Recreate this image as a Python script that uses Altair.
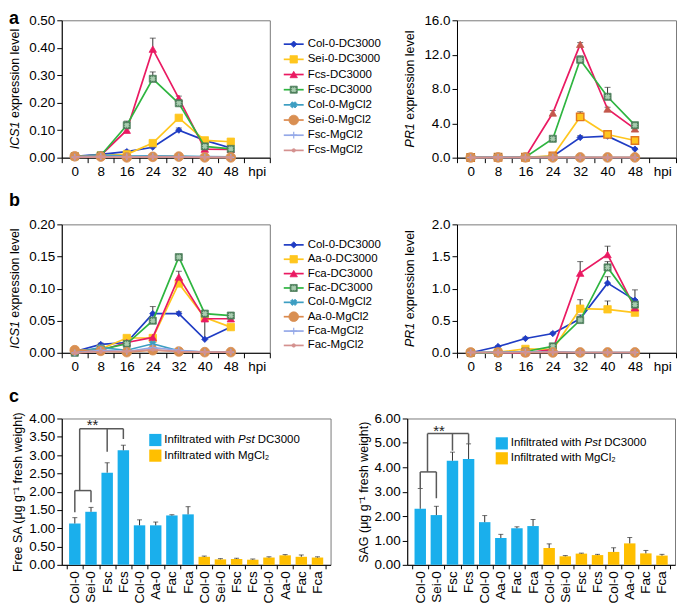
import json
import altair as alt
import pandas as pd

FONT = "Liberation Sans"
HOURS = [0, 8, 16, 24, 32, 40, 48]

SERIES_A = ["Col-0-DC3000", "Sei-0-DC3000", "Fcs-DC3000", "Fsc-DC3000",
            "Col-0-MgCl2", "Sei-0-MgCl2", "Fsc-MgCl2", "Fcs-MgCl2"]
SERIES_B = ["Col-0-DC3000", "Aa-0-DC3000", "Fca-DC3000", "Fac-DC3000",
            "Col-0-MgCl2", "Aa-0-MgCl2", "Fca-MgCl2", "Fac-MgCl2"]

# ---- panel a, ICS1 ----
ICS1_A_COL0_DC = [0.005, 0.012, 0.022, 0.038, 0.100, 0.063, 0.035]
ICS1_A_SEI0_DC = [0.005, 0.008, 0.012, 0.053, 0.145, 0.063, 0.058]
ICS1_A_FCS_DC = [0.005, 0.008, 0.100, 0.395, 0.216, 0.031, 0.030]
ICS1_A_FSC_DC = [0.005, 0.008, 0.118, 0.287, 0.198, 0.041, 0.032]
ICS1_A_COL0_MG = [0.004, 0.010, 0.006, 0.007, 0.006, 0.004, 0.003]
ICS1_A_SEI0_MG = [0.005, 0.004, 0.001, 0.003, 0.004, 0.001, 0.001]
ICS1_A_FSC_MG = [0.002, 0.004, 0.003, 0.004, 0.003, 0.002, 0.001]
ICS1_A_FCS_MG = [0.001, 0.003, 0.002, 0.003, 0.002, 0.001, 0.001]
ICS1_A_COL0_DC_ERR = [0.0, 0.003, 0.005, 0.005, 0.008, 0.004, 0.003]
ICS1_A_SEI0_DC_ERR = [0.0, 0.002, 0.003, 0.005, 0.006, 0.005, 0.006]
ICS1_A_FCS_DC_ERR = [0.0, 0.002, 0.006, 0.040, 0.008, 0.004, 0.003]
ICS1_A_FSC_DC_ERR = [0.0, 0.002, 0.015, 0.025, 0.006, 0.005, 0.003]

# ---- panel a, PR1 ----
PR1_A_COL0_DC = [0.02, 0.05, 0.05, 0.15, 2.35, 2.50, 1.00]
PR1_A_SEI0_DC = [0.02, 0.05, 0.05, 0.20, 4.74, 2.70, 2.00]
PR1_A_FCS_DC = [0.02, 0.05, 0.05, 5.20, 13.20, 5.67, 3.35]
PR1_A_FSC_DC = [0.02, 0.05, 0.05, 2.20, 11.40, 7.09, 3.78]
PR1_A_COL0_MG = [0.02, 0.04, 0.03, 0.03, 0.03, 0.02, 0.02]
PR1_A_SEI0_MG = [0.02, 0.03, 0.03, 0.03, 0.03, 0.03, 0.03]
PR1_A_FSC_MG = [0.02, 0.03, 0.02, 0.02, 0.02, 0.02, 0.02]
PR1_A_FCS_MG = [0.01, 0.02, 0.02, 0.02, 0.02, 0.02, 0.02]
PR1_A_COL0_DC_ERR = [0.0, 0.0, 0.0, 0.05, 0.20, 0.25, 0.10]
PR1_A_SEI0_DC_ERR = [0.0, 0.0, 0.0, 0.05, 0.60, 0.20, 0.15]
PR1_A_FCS_DC_ERR = [0.0, 0.0, 0.0, 0.30, 0.20, 0.20, 0.20]
PR1_A_FSC_DC_ERR = [0.0, 0.0, 0.0, 0.15, 0.45, 1.10, 0.25]

# ---- panel b, ICS1 ----
ICS1_B_COL0_DC = [0.002, 0.013, 0.016, 0.061, 0.061, 0.021, 0.040]
ICS1_B_AA0_DC = [0.003, 0.006, 0.023, 0.023, 0.108, 0.055, 0.040]
ICS1_B_FCA_DC = [0.002, 0.004, 0.016, 0.024, 0.118, 0.053, 0.053]
ICS1_B_FAC_DC = [0.000, 0.005, 0.014, 0.050, 0.149, 0.061, 0.058]
ICS1_B_COL0_MG = [0.001, 0.008, 0.004, 0.014, 0.003, 0.001, 0.001]
ICS1_B_AA0_MG = [0.004, 0.003, 0.001, 0.004, 0.002, 0.001, 0.001]
ICS1_B_FCA_MG = [0.000, 0.004, 0.002, 0.008, 0.004, 0.001, 0.001]
ICS1_B_FAC_MG = [0.000, 0.002, 0.002, 0.005, 0.002, 0.001, 0.001]
ICS1_B_COL0_DC_ERR = [0.0, 0.002, 0.002, 0.011, 0.003, 0.033, 0.003]
ICS1_B_AA0_DC_ERR = [0.0, 0.001, 0.004, 0.003, 0.005, 0.003, 0.004]
ICS1_B_FCA_DC_ERR = [0.0, 0.001, 0.002, 0.003, 0.009, 0.004, 0.004]
ICS1_B_FAC_DC_ERR = [0.0, 0.001, 0.002, 0.004, 0.004, 0.002, 0.002]

# ---- panel b, PR1 ----
PR1_B_COL0_DC = [0.00, 0.098, 0.222, 0.300, 0.530, 1.085, 0.820]
PR1_B_AA0_DC = [0.00, 0.010, 0.060, 0.050, 0.687, 0.677, 0.625]
PR1_B_FCA_DC = [0.00, 0.000, 0.000, 0.050, 1.240, 1.530, 0.700]
PR1_B_FAC_DC = [0.00, 0.000, 0.020, 0.100, 0.510, 1.330, 0.750]
PR1_B_COL0_MG = [0.005, 0.010, 0.010, 0.020, 0.005, 0.005, 0.005]
PR1_B_AA0_MG = [0.005, 0.005, 0.005, 0.005, 0.005, 0.005, 0.005]
PR1_B_FCA_MG = [0.005, 0.005, 0.010, 0.010, 0.005, 0.005, 0.005]
PR1_B_FAC_MG = [0.005, 0.005, 0.005, 0.010, 0.005, 0.005, 0.005]
PR1_B_COL0_DC_ERR = [0.0, 0.01, 0.02, 0.02, 0.06, 0.10, 0.16]
PR1_B_AA0_DC_ERR = [0.0, 0.0, 0.01, 0.01, 0.14, 0.13, 0.03]
PR1_B_FCA_DC_ERR = [0.0, 0.0, 0.0, 0.01, 0.18, 0.13, 0.05]
PR1_B_FAC_DC_ERR = [0.0, 0.0, 0.0, 0.01, 0.05, 0.09, 0.08]

# ---- panel c ----
GENOTYPES = ["Col-0", "Sei-0", "Fsc", "Fcs", "Col-0", "Aa-0", "Fac", "Fca"]
SA_DC = [1.13, 1.45, 2.52, 3.13, 1.08, 1.08, 1.35, 1.38]
SA_DC_ERR = [0.16, 0.12, 0.27, 0.14, 0.15, 0.09, 0.02, 0.21]
SA_MG = [0.22, 0.15, 0.16, 0.14, 0.20, 0.26, 0.22, 0.20]
SA_MG_ERR = [0.02, 0.02, 0.02, 0.02, 0.02, 0.02, 0.05, 0.02]
SAG_DC = [2.30, 2.04, 4.27, 4.34, 1.75, 1.10, 1.50, 1.59]
SAG_DC_ERR = [0.83, 0.36, 0.35, 0.62, 0.27, 0.15, 0.06, 0.27]
SAG_MG = [0.69, 0.35, 0.46, 0.40, 0.53, 0.88, 0.47, 0.38]
SAG_MG_ERR = [0.17, 0.03, 0.02, 0.03, 0.17, 0.24, 0.12, 0.05]

# significance brackets (data units)
SA_BR_X = [0, 1, 0, 0.3, 0.3, 2, 3]
SA_BR_X2 = [0, 1, 1, 0.3, 3, 2, 3]
SA_BR_Y = [1.44, 1.71, 2.03, 2.03, 3.72, 3.09, 3.44]
SA_BR_Y2 = [2.03, 2.03, 2.03, 3.72, 3.72, 3.72, 3.72]
SA_STAR = [1.1, 3.82]
SAG_BR_X = [0, 1, 0, 0.45, 0.45, 2, 3]
SAG_BR_X2 = [0, 1, 1, 0.45, 3, 2, 3]
SAG_BR_Y = [3.14, 2.73, 3.81, 3.81, 5.38, 4.68, 4.95]
SAG_BR_Y2 = [3.81, 3.81, 3.81, 5.38, 5.38, 5.38, 5.38]
SAG_STAR = [1.17, 5.50]

BLUE = "#1AAFEC"
ORANGE = "#FFBF00"
ERRC = "#333333"
ONE = pd.DataFrame({"k": [0]})
LABEL_FS = 13.5

AW = {' ': 278, 'a': 556, 'b': 556, 'c': 500, 'd': 556, 'e': 556, 'f': 278, 'g': 556,
      'h': 556, 'i': 222, 'l': 222, 'n': 556, 'o': 556, 'p': 556, 'r': 333, 's': 500,
      't': 278, 'v': 500, 'w': 722, 'x': 500, 'I': 278, 'C': 722, 'S': 667, 'P': 667,
      'R': 722, 'D': 722, 'M': 833, '1': 556, '0': 556, '3': 556}


def tw(s, size):
    return sum(AW.get(c, 556) for c in s) * size / 1000.0


STYLES = [
    dict(line="#1F3CC4", shape="diamond", fill="#1F3CC4", size=40),
    dict(line="#FFC61E", shape="square", fill="#FFC61E", size=55),
    dict(line="#EA1A62", shape="triangle-up", fill="#EA1A62", size=55),
    dict(line="#2EB540", shape="square", fill="#4E7F5C", size=50,
         overlay=dict(shape="cross", angle=45, fill="#A9CDB0", size=22)),
    dict(line="#3D9EC2", shape="cross", fill="#3D9EC2", size=40, angle=45),
    dict(line="#DC8A4E", shape="circle", fill="#D98F52", size=95),
    dict(line="#95A9E8", shape="M-1,0L1,0M0,-1L0,1", filled=False, size=45),
    dict(line="#D4918F", shape="circle", fill="#D4918F", size=12),
]


def pt_kwargs(st):
    kw = dict(shape=st["shape"], size=st["size"], opacity=1)
    if st.get("filled", True):
        kw.update(filled=True, fill=st["fill"], stroke=st.get("stroke", st["fill"]),
                  strokeWidth=st.get("sw", 0.8))
    else:
        kw.update(filled=False, color=st["line"], strokeWidth=1.2)
    if "angle" in st:
        kw["angle"] = st["angle"]
    return kw


XT = list(range(-4, 61, 4))
X_LABEL_EXPR = "datum.value == 56 ? 'hpi' : (datum.value >= 0 && datum.value % 8 == 0 ? datum.label : '')"
X_TICK_COND = {"condition": {"test": "datum.value % 8 == 0", "value": 0}, "value": 1}


def letter_layer(letter, y, visible=True):
    return alt.Chart(ONE).mark_text(
        text=letter, fontSize=18, fontWeight="bold", align="left", baseline="alphabetic",
        font=FONT, color="black", opacity=1 if visible else 0
    ).encode(x=alt.value(-53 if visible else 0), y=alt.value(y))


def ytitle_layers(gene, H, x=-47, size=12.5):
    rest = "expression level"
    total = tw(gene + " " + rest, size)
    y0 = H / 2 + total / 2
    g = alt.Chart(ONE).mark_text(text=gene, angle=270, align="left", baseline="middle",
                                 fontStyle="italic", fontSize=size, font=FONT, color="black"
                                 ).encode(x=alt.value(x), y=alt.value(y0))
    r = alt.Chart(ONE).mark_text(text=rest, angle=270, align="left", baseline="middle",
                                 fontSize=size, font=FONT, color="black"
                                 ).encode(x=alt.value(x), y=alt.value(y0 - tw(gene + " ", size)))
    return [g, r]


def line_panel(names, vals, errs, ydom, yticks, yfmt, W, H, gene, letter, letter_y,
               show_letter, legend, leg_top=0, leg_step=15, override=None):
    styles = [dict(s) for s in STYLES]
    for k, v in (override or {}).items():
        styles[k].update(v)
    rows = []
    for si in range(len(names)):
        e_list = errs[si] if si < len(errs) else None
        for j, t in enumerate(HOURS):
            e = e_list[j] if e_list is not None else 0.0
            rows.append(dict(si=si, t=t, v=vals[si][j], e=e, top=vals[si][j] + e))
    df = pd.DataFrame(rows)
    xsc = alt.Scale(domain=[-4, 60], nice=False, zero=False)
    xax = alt.Axis(values=XT, labelExpr=X_LABEL_EXPR, tickOpacity=X_TICK_COND,
                   labelOverlap=False, labelFlush=False, title=None, tickSize=5, labelPadding=2)
    ysc = alt.Scale(domain=ydom, nice=False, zero=False)
    yax = alt.Axis(values=yticks, format=yfmt, title=None, tickSize=5, labelPadding=2,
                   labelOverlap=False, labelFlush=False)

    def X(f):
        return alt.X(f + ":Q", scale=xsc, axis=xax)

    def Y(f):
        return alt.Y(f + ":Q", scale=ysc, axis=yax)

    base = alt.Chart(df)
    errd = base.transform_filter("datum.e > 0")
    layers = [
        errd.mark_rule(color=ERRC, strokeWidth=1).encode(x=X("t"), y=Y("v"), y2="top:Q"),
        errd.mark_tick(orient="horizontal", size=6, thickness=1, color=ERRC).encode(x=X("t"), y=Y("top")),
    ]
    for si, st in enumerate(styles):
        sub = base.transform_filter(f"datum.si == {si}")
        layers.append(sub.mark_line(color=st["line"], strokeWidth=1.7).encode(x=X("t"), y=Y("v")))
        layers.append(sub.mark_point(**pt_kwargs(st)).encode(x=X("t"), y=Y("v")))
        if "overlay" in st:
            layers.append(sub.mark_point(**pt_kwargs(st["overlay"])).encode(x=X("t"), y=Y("v")))
    layers += ytitle_layers(gene, H)
    layers.append(letter_layer(letter, letter_y, show_letter))
    if legend:
        for si, (name, st) in enumerate(zip(names, styles)):
            ly = leg_top + si * leg_step
            layers.append(alt.Chart(ONE).mark_rule(color=st["line"], strokeWidth=1.7).encode(
                x=alt.value(W + 14), x2=alt.value(W + 34), y=alt.value(ly)))
            layers.append(alt.Chart(ONE).mark_point(**pt_kwargs(st)).encode(
                x=alt.value(W + 24), y=alt.value(ly)))
            if "overlay" in st:
                layers.append(alt.Chart(ONE).mark_point(**pt_kwargs(st["overlay"])).encode(
                    x=alt.value(W + 24), y=alt.value(ly)))
            layers.append(alt.Chart(ONE).mark_text(text=name, align="left", baseline="middle",
                                                   fontSize=11.5, font=FONT, color="black").encode(
                x=alt.value(W + 38), y=alt.value(ly)))
    return alt.layer(*layers).properties(width=W, height=H)


XBT = [i * 0.5 - 0.5 for i in range(33)]


def bar_panel(dc, dc_err, mg, mg_err, ydom, yticks, ytitle, W, H, letter, letter_y, show_letter,
              brx, brx2, bry, bry2, star, leg_x, leg_y0, leg_dy):
    df = pd.DataFrame(dict(idx=list(range(16)), v=dc + mg, e=dc_err + mg_err,
                           grp=["DC"] * len(dc) + ["MG"] * len(mg)))
    df["top"] = df["v"] + df["e"]
    labels16 = GENOTYPES + GENOTYPES
    xsc = alt.Scale(domain=[-0.5, 15.5], nice=False, zero=False)
    xax = alt.Axis(values=XBT,
                   labelExpr=f"datum.value % 1 == 0 ? {json.dumps(labels16)}[datum.value] : ''",
                   tickOpacity={"condition": {"test": "datum.value % 1 == 0", "value": 0}, "value": 1},
                   labelAngle=-90, labelAlign="right", labelBaseline="middle", labelOverlap=False,
                   labelFlush=False, title=None, tickSize=4, labelPadding=2)
    ysc = alt.Scale(domain=ydom, nice=False, zero=False)
    yax = alt.Axis(values=yticks, format=".2f", title=ytitle, titleFontSize=12.5,
                   titleFontWeight="normal", titleColor="black", titleFont=FONT, titlePadding=4,
                   tickSize=5, labelPadding=2, labelOverlap=False, labelFlush=False)

    def X(f):
        return alt.X(f + ":Q", scale=xsc, axis=xax)

    def Y(f):
        return alt.Y(f + ":Q", scale=ysc, axis=yax)

    base = alt.Chart(df)
    br = pd.DataFrame(dict(x=brx, x2=brx2, y=bry, y2=bry2))
    st = pd.DataFrame(dict(x=[star[0]], y=[star[1]]))
    layers = [
        base.mark_bar(size=11.5, opacity=1).encode(
            x=X("idx"), y=Y("v"),
            color=alt.Color("grp:N", scale=alt.Scale(domain=["DC", "MG"], range=[BLUE, ORANGE]), legend=None)),
        base.mark_rule(color=ERRC, strokeWidth=1).encode(x=X("idx"), y=Y("v"), y2="top:Q"),
        base.mark_tick(orient="horizontal", size=5, thickness=1, color=ERRC).encode(x=X("idx"), y=Y("top")),
        alt.Chart(br).mark_rule(color="#595959", strokeWidth=1.5).encode(
            x=X("x"), x2="x2:Q", y=Y("y"), y2="y2:Q"),
        alt.Chart(st).mark_text(text="**", fontSize=15, font=FONT, color="#222222", baseline="middle").encode(
            x=X("x"), y=Y("y")),
    ]
    fs = 11.5
    y1 = leg_y0
    y2 = leg_y0 + leg_dy
    layers.append(alt.Chart(ONE).mark_square(size=150, color=BLUE, opacity=1).encode(
        x=alt.value(leg_x), y=alt.value(y1)))
    layers.append(alt.Chart(ONE).mark_square(size=150, color=ORANGE, opacity=1).encode(
        x=alt.value(leg_x), y=alt.value(y2)))
    tx = leg_x + 9
    p1 = "Infiltrated with "
    layers.append(alt.Chart(ONE).mark_text(text=p1.strip(), align="left", baseline="middle", fontSize=fs,
                                           font=FONT, color="black").encode(x=alt.value(tx), y=alt.value(y1)))
    layers.append(alt.Chart(ONE).mark_text(text="Pst", align="left", baseline="middle", fontSize=fs,
                                           fontStyle="italic", font=FONT, color="black").encode(
        x=alt.value(tx + tw(p1, fs)), y=alt.value(y1)))
    layers.append(alt.Chart(ONE).mark_text(text="DC3000", align="left", baseline="middle", fontSize=fs,
                                           font=FONT, color="black").encode(
        x=alt.value(tx + tw(p1 + "Pst ", fs)), y=alt.value(y1)))
    layers.append(alt.Chart(ONE).mark_text(text="Infiltrated with MgCl\u2082", align="left", baseline="middle",
                                           fontSize=fs, font=FONT, color="black").encode(
        x=alt.value(tx), y=alt.value(y2)))
    layers.append(letter_layer(letter, letter_y, show_letter))
    return alt.layer(*layers).properties(width=W, height=H)


WL, WR, HA, HB, HC = 209, 220, 138, 129, 147

left_a = line_panel(SERIES_A,
                    [ICS1_A_COL0_DC, ICS1_A_SEI0_DC, ICS1_A_FCS_DC, ICS1_A_FSC_DC,
                     ICS1_A_COL0_MG, ICS1_A_SEI0_MG, ICS1_A_FSC_MG, ICS1_A_FCS_MG],
                    [ICS1_A_COL0_DC_ERR, ICS1_A_SEI0_DC_ERR, ICS1_A_FCS_DC_ERR, ICS1_A_FSC_DC_ERR],
                    [0, 0.5], [0, 0.1, 0.2, 0.3, 0.4, 0.5], ".2f", WL, HA, "ICS1", "a", 4, True,
                    True, 24, 15.24)
right_a = line_panel(SERIES_A,
                     [PR1_A_COL0_DC, PR1_A_SEI0_DC, PR1_A_FCS_DC, PR1_A_FSC_DC,
                      PR1_A_COL0_MG, PR1_A_SEI0_MG, PR1_A_FSC_MG, PR1_A_FCS_MG],
                     [PR1_A_COL0_DC_ERR, PR1_A_SEI0_DC_ERR, PR1_A_FCS_DC_ERR, PR1_A_FSC_DC_ERR],
                     [0, 16], [0, 4, 8, 12, 16], ".1f", WR, HA, "PR1", "a", 4, False, False,
                     override={1: dict(stroke="#E2771D", sw=1.4), 2: dict(fill="#C4584C", stroke="#C4584C")})
left_b = line_panel(SERIES_B,
                    [ICS1_B_COL0_DC, ICS1_B_AA0_DC, ICS1_B_FCA_DC, ICS1_B_FAC_DC,
                     ICS1_B_COL0_MG, ICS1_B_AA0_MG, ICS1_B_FCA_MG, ICS1_B_FAC_MG],
                    [ICS1_B_COL0_DC_ERR, ICS1_B_AA0_DC_ERR, ICS1_B_FCA_DC_ERR, ICS1_B_FAC_DC_ERR],
                    [0, 0.2], [0, 0.05, 0.1, 0.15, 0.2], ".2f", WL, HB, "ICS1", "b", -18, True,
                    True, 20.6, 14.43)
right_b = line_panel(SERIES_B,
                     [PR1_B_COL0_DC, PR1_B_AA0_DC, PR1_B_FCA_DC, PR1_B_FAC_DC,
                      PR1_B_COL0_MG, PR1_B_AA0_MG, PR1_B_FCA_MG, PR1_B_FAC_MG],
                     [PR1_B_COL0_DC_ERR, PR1_B_AA0_DC_ERR, PR1_B_FCA_DC_ERR, PR1_B_FAC_DC_ERR],
                     [0, 2], [0, 0.5, 1, 1.5, 2], ".1f", WR, HB, "PR1", "b", -18, False, False)
left_c = bar_panel(SA_DC, SA_DC_ERR, SA_MG, SA_MG_ERR, [0, 4], [0, 0.5, 1, 1.5, 2, 2.5, 3, 3.5, 4],
                   "Free SA (\u03bcg g\u207b\u00b9 fresh weight)", 270, HC, "c", -17, True,
                   SA_BR_X, SA_BR_X2, SA_BR_Y, SA_BR_Y2, SA_STAR, 94, 21.6, 15.7)
right_c = bar_panel(SAG_DC, SAG_DC_ERR, SAG_MG, SAG_MG_ERR, [0, 6], [0, 1, 2, 3, 4, 5, 6],
                    "SAG (\u03bcg g\u207b\u00b9 fresh weight)", 269, HC, "c", -17, False,
                    SAG_BR_X, SAG_BR_X2, SAG_BR_Y, SAG_BR_Y2, SAG_STAR, 95, 25, 15)

row_a = alt.hconcat(left_a, right_a, spacing=21)
row_b = alt.hconcat(left_b, right_b, spacing=21)
row_c = alt.hconcat(left_c, right_c, spacing=24)

chart = alt.vconcat(row_a, row_b, row_c, spacing=13).properties(
    padding={"left": 0, "top": 0, "right": 0, "bottom": 0}, background="white"
).configure(font=FONT).configure_view(stroke="#7a7a7a", strokeWidth=1).configure_axis(
    labelFont=FONT, labelFontSize=LABEL_FS, labelColor="black", domainColor="black", tickColor="black",
    grid=False, domainWidth=1, tickWidth=1, titleFont=FONT)

chart.save("out.html", embed_options={"renderer": "svg", "actions": False})
